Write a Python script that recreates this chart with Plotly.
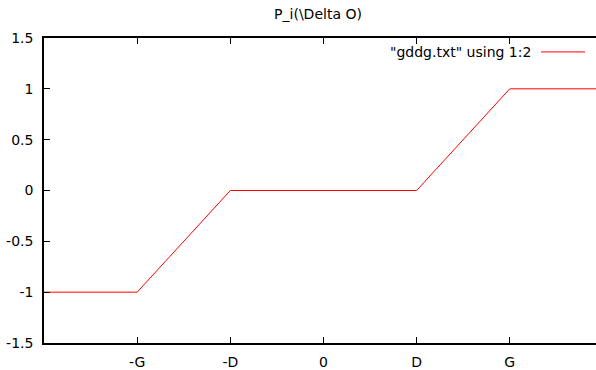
import plotly.graph_objects as go

x_vals = [-3, -2, -1, 1, 2, 3]
y_vals = [-1, -1, 0, 0, 1, 1]
x_tickvals = [-2, -1, 0, 1, 2]
x_ticktext = ["-G", "-D", "0", "D", "G"]
y_tickvals = [-1.5, -1, -0.5, 0, 0.5, 1, 1.5]
y_ticktext = ["-1.5", "-1", "-0.5", "0", "0.5", "1", "1.5"]
series_name = '"gddg.txt" using 1:2'
title_text = "P_i(\\Delta O)"

W, H = 596, 370
L, R, T, B = 44, 0, 38, 25
pw, ph = W - L - R, H - T - B

fig = go.Figure()
fig.add_trace(go.Scatter(x=x_vals, y=y_vals, mode="lines",
                         line=dict(color="#ff0000", width=1), name=series_name,
                         showlegend=False))

font = dict(family="DejaVu Sans", size=14, color="black")
axis_common = dict(showgrid=False, zeroline=False, showline=True, linecolor="black",
                   linewidth=1.5, ticks="inside", ticklen=6, tickcolor="black",
                   tickwidth=1, tickfont=font)

fig.update_xaxes(range=[-3, 2.926], tickvals=x_tickvals, ticktext=x_ticktext,
                 mirror="ticks", ticklabelstandoff=5, **axis_common)
fig.update_yaxes(range=[-1.5, 1.5], tickvals=y_tickvals, ticktext=y_ticktext,
                 mirror=False, ticklabelstandoff=6, **axis_common)

def px_x(p):
    return (p - L) / pw

def px_y(p):
    return (H - B - p) / ph

fig.add_annotation(text=series_name, xref="paper", yref="paper",
                   x=px_x(533), y=px_y(52), xanchor="right", yanchor="middle",
                   showarrow=False, font=font)
fig.add_shape(type="line", xref="paper", yref="paper",
              x0=px_x(541), x1=px_x(585), y0=px_y(52), y1=px_y(52),
              line=dict(color="#ff0000", width=1))

fig.update_layout(
    width=W, height=H,
    margin=dict(l=L, r=R, t=T, b=B),
    paper_bgcolor="white", plot_bgcolor="white",
    title=dict(text=title_text, x=px_x(318), xref="paper", xanchor="center",
               y=1 - 14 / H, yanchor="middle", font=font),
    showlegend=False,
)

fig.write_html("out.html")
